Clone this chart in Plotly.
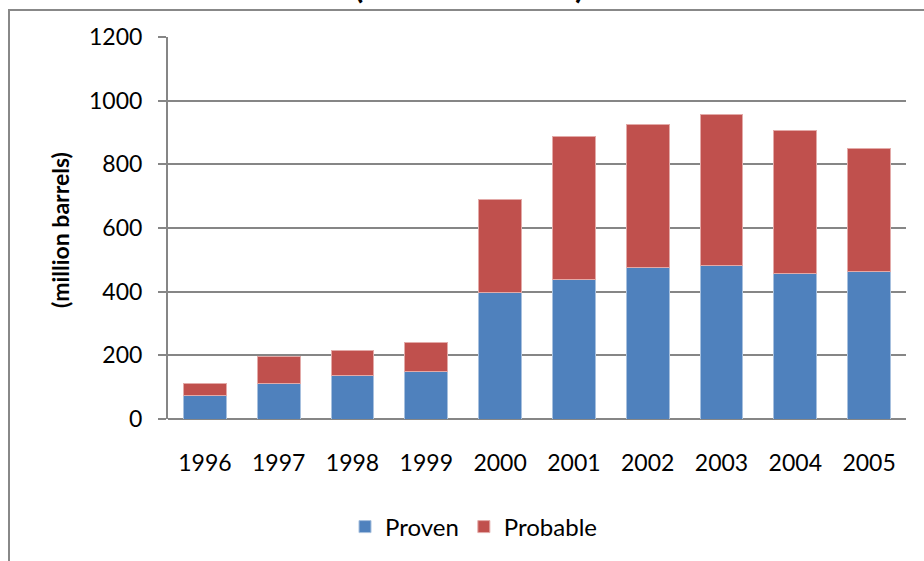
import plotly.graph_objects as go

years = ["1996", "1997", "1998", "1999", "2000", "2001", "2002", "2003", "2004", "2005"]
proven = [75, 112, 137, 148, 396, 439, 477, 483, 458, 464]
probable = [36, 85, 77, 91, 292, 449, 448, 472, 449, 387]

W, H = 924, 561
L, T = 168, 37
pw, ph = 738, 382
R, B = W - L - pw, H - T - ph

def px(x):
    return (x - L) / pw

def py(y):
    return (H - B - y) / ph

FONT = "Lato"

fig = go.Figure()
fig.add_trace(go.Bar(x=years, y=proven, name="Proven",
                     marker=dict(color="#4F81BD", line=dict(color="#A7C0DE", width=1))))
fig.add_trace(go.Bar(x=years, y=probable, name="Probable",
                     marker=dict(color="#C0504D", line=dict(color="#E3AAA8", width=1))))

fig.update_layout(
    width=W, height=H,
    margin=dict(l=L, r=R, t=T, b=B, pad=0),
    barmode="stack",
    bargap=0.42,
    plot_bgcolor="white",
    paper_bgcolor="white",
    font=dict(family=FONT, size=23, color="#000000"),
    showlegend=True,
    legend=dict(orientation="h", x=px(474), xanchor="center", y=py(527), yanchor="middle",
                font=dict(family=FONT, size=24), itemwidth=30, traceorder="normal"),
    xaxis=dict(type="category", showgrid=False, showline=False, ticks="",
               tickfont=dict(family=FONT, size=23), ticklabelstandoff=28),
    yaxis=dict(range=[0, 1200], dtick=200, showgrid=True, gridcolor="#868686", gridwidth=2,
               showline=True, linecolor="#868686", linewidth=2,
               ticks="outside", ticklen=8, tickcolor="#868686", tickwidth=2,
               zeroline=True, zerolinecolor="#868686", zerolinewidth=2,
               tickfont=dict(family=FONT, size=23), ticklabelstandoff=11),
)

# y-axis title
fig.add_annotation(text="<b>(million barrels)</b>", xref="paper", yref="paper",
                   x=px(60), y=py(230), xanchor="center", yanchor="middle", textangle=-90,
                   showarrow=False, font=dict(family=FONT, size=23, color="#000000"))

# outer chart border (left and top visible)
fig.add_shape(type="rect", xref="paper", yref="paper", x0=px(9), x1=px(1000), y0=py(600), y1=py(10),
              line=dict(color="#888888", width=2), fillcolor="rgba(0,0,0,0)", layer="above")

# cut-off title at the top
fig.add_annotation(text="<b>(million barrels)</b>", xref="paper", yref="paper",
                   x=px(469), y=py(7), xanchor="center", yanchor="bottom", showarrow=False,
                   font=dict(family=FONT, size=34, color="#000000"))

fig.write_html("out.html", config={"displayModeBar": False},
               post_script="document.body.style.margin='0';")
